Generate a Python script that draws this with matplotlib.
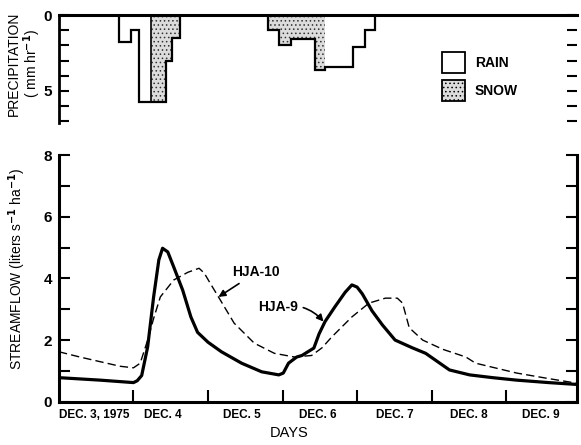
import matplotlib
matplotlib.use('Agg')
import matplotlib.pyplot as plt
from matplotlib.patches import Patch

# precipitation blocks (days since Dec 3 00:00, depth in mm/hr)
rain_start = [0.81, 0.97, 1.08, 3.57, 3.95, 4.11]
rain_end = [0.97, 1.08, 1.24, 3.95, 4.11, 4.24]
rain_rate = [1.8, 1.0, 5.7, 3.45, 2.1, 0.95]

snow_start = [1.24, 1.43, 1.51, 2.81, 2.95, 3.11, 3.43]
snow_end = [1.43, 1.51, 1.62, 2.95, 3.11, 3.43, 3.57]
snow_rate = [5.7, 3.0, 1.5, 1.0, 1.95, 1.6, 3.6]

# streamflow, liters s-1 ha-1
hja9_day = [0.00, 0.55, 1.00, 1.05, 1.11, 1.19, 1.27, 1.34, 1.39, 1.46, 1.54, 1.66,
            1.77, 1.86, 2.00, 2.18, 2.45, 2.72, 2.95, 3.01, 3.08, 3.19, 3.26, 3.42,
            3.49, 3.57, 3.70, 3.84, 3.93, 4.00, 4.07, 4.20, 4.34, 4.51, 4.74, 4.92,
            5.08, 5.24, 5.51, 5.82, 6.14, 6.57, 6.95]
hja9_flow = [0.78, 0.70, 0.62, 0.68, 0.85, 1.78, 3.40, 4.60, 4.98, 4.86, 4.37, 3.62,
             2.75, 2.25, 1.93, 1.62, 1.25, 0.97, 0.87, 0.93, 1.25, 1.45, 1.50, 1.74,
             2.20, 2.60, 3.07, 3.55, 3.79, 3.72, 3.50, 2.95, 2.49, 2.00, 1.75, 1.57,
             1.30, 1.03, 0.87, 0.78, 0.70, 0.62, 0.56]

hja10_day = [0.00, 0.28, 0.55, 0.82, 1.00, 1.09, 1.19, 1.27, 1.36, 1.54, 1.73, 1.88,
             1.95, 2.04, 2.14, 2.35, 2.62, 2.89, 3.16, 3.39, 3.53, 3.66, 3.93, 4.16,
             4.38, 4.54, 4.61, 4.70, 4.88, 5.15, 5.46, 5.59, 6.14, 6.57, 6.95]
hja10_flow = [1.62, 1.45, 1.30, 1.15, 1.10, 1.25, 2.00, 2.70, 3.40, 3.95, 4.20, 4.33,
              4.17, 3.80, 3.40, 2.55, 1.90, 1.57, 1.45, 1.50, 1.75, 2.10, 2.75, 3.20,
              3.36, 3.36, 3.20, 2.40, 2.00, 1.70, 1.45, 1.25, 0.93, 0.75, 0.60]

day_labels = ['DEC. 3, 1975', 'DEC. 4', 'DEC. 5', 'DEC. 6', 'DEC. 7', 'DEC. 8', 'DEC. 9']
day_label_pos = [0.47, 1.40, 2.45, 3.47, 4.50, 5.50, 6.47]

plt.rcParams['font.family'] = ['Liberation Sans Narrow', 'Liberation Sans', 'DejaVu Sans']
plt.rcParams['font.weight'] = 'bold'
plt.rcParams['hatch.linewidth'] = 0.6
plt.rcParams['hatch.color'] = '#333333'

fig = plt.figure(figsize=(5.81, 4.45), dpi=100)
ax_p = fig.add_axes([0.1015, 0.724, 0.8915, 0.242])
ax_q = fig.add_axes([0.1015, 0.0973, 0.8915, 0.554])

# --- precipitation panel ---
rain_w = [e - s for s, e in zip(rain_start, rain_end)]
snow_w = [e - s for s, e in zip(snow_start, snow_end)]
ax_p.bar(rain_start, rain_rate, width=rain_w, align='edge', facecolor='white',
         linewidth=0)
ax_p.bar(snow_start, snow_rate, width=snow_w, align='edge', facecolor='#dcdcdc',
         edgecolor='#333333', linewidth=0, hatch='....')

# outline of the whole hyetograph
blocks = sorted(zip(rain_start + snow_start, rain_end + snow_end, rain_rate + snow_rate))
edges = [blocks[0][0]]
vals = []
for s, e, r in blocks:
    if s > edges[-1] + 1e-9:
        vals.append(0)
        edges.append(s)
    vals.append(r)
    edges.append(e)
ax_p.stairs(vals, edges, baseline=0, color='black', linewidth=1.6)
# boundary between rain and snow at equal depth
ax_p.vlines([1.24], 0, 5.7, color='black', linewidth=1.2)

ax_p.set_xlim(0, 6.95)
ax_p.set_ylim(7.1, 0)
ax_p.set_xticks([])
ax_p.set_yticks(range(0, 8))
ax_p.set_yticklabels(['0', '', '', '', '', '5', '', ''], fontsize=11)
ax_p.tick_params(axis='y', direction='in', length=7, width=1.5, right=True, pad=5)
ax_p.spines['bottom'].set_visible(False)
ax_p.spines['right'].set_visible(False)
ax_p.spines['top'].set_linewidth(2.2)
ax_p.spines['left'].set_linewidth(2.0)
ax_p.set_ylabel('PRECIPITATION\n( mm hr$^{-1}$)', fontsize=10, linespacing=1.05)
ax_p.yaxis.set_label_coords(-0.03, 0.55)

handles = [Patch(facecolor='white', edgecolor='black', linewidth=1.3, label='RAIN'),
           Patch(facecolor='#dcdcdc', edgecolor='black', linewidth=1.3, hatch='....',
                 label='SNOW')]
ax_p.legend(handles=handles, loc='upper left', bbox_to_anchor=(0.74, 0.66),
            frameon=False, fontsize=10, handlelength=1.65, handleheight=1.95,
            labelspacing=0.55, handletextpad=0.7, borderpad=0, borderaxespad=0)

# --- streamflow panel ---
ax_q.plot(hja9_day, hja9_flow, color='black', linewidth=2.3, solid_joinstyle='round')
ax_q.plot(hja10_day, hja10_flow, color='black', linewidth=1.0, dashes=(6, 3))
ax_q.set_xlim(0, 6.95)
ax_q.set_ylim(0, 8)
ax_q.set_yticks([0, 2, 4, 6, 8])
ax_q.set_yticks([1, 3, 5, 7], minor=True)
ax_q.set_yticklabels(['0', '2', '4', '6', '8'], fontsize=11)
ax_q.tick_params(axis='y', which='both', direction='in', length=8, width=1.5,
                 right=True, pad=5)
ax_q.set_xticks([1, 2, 3, 4, 5, 6])
ax_q.set_xticklabels([])
ax_q.set_xticks(day_label_pos, minor=True)
ax_q.set_xticklabels(day_labels, minor=True, fontsize=8.5)
ax_q.tick_params(axis='x', which='major', direction='in', length=9, width=1.5)
ax_q.tick_params(axis='x', which='minor', length=0, pad=5)
ax_q.spines['top'].set_visible(False)
for side in ['left', 'bottom', 'right']:
    ax_q.spines[side].set_linewidth(2.2)
ax_q.set_ylabel('STREAMFLOW (liters s$^{-1}$ ha$^{-1}$)', fontsize=10)
ax_q.yaxis.set_label_coords(-0.06, 0.54)
ax_q.set_xlabel('DAYS', fontsize=10.5, labelpad=3)
ax_q.xaxis.set_label_coords(0.445, -0.1)

ax_q.annotate('HJA-10', xy=(2.14, 3.4), xytext=(2.33, 4.2), fontsize=10,
              va='center', ha='left',
              arrowprops=dict(arrowstyle='-|>', color='black', lw=1.2,
                              shrinkA=2, shrinkB=0, mutation_scale=10))
ax_q.annotate('HJA-9', xy=(3.55, 2.6), xytext=(2.67, 3.07), fontsize=10,
              va='center', ha='left',
              arrowprops=dict(arrowstyle='-|>', color='black', lw=1.2,
                              shrinkA=2, shrinkB=0, mutation_scale=10,
                              connectionstyle='arc3,rad=-0.3'))

fig.savefig('out.png', dpi=100)
